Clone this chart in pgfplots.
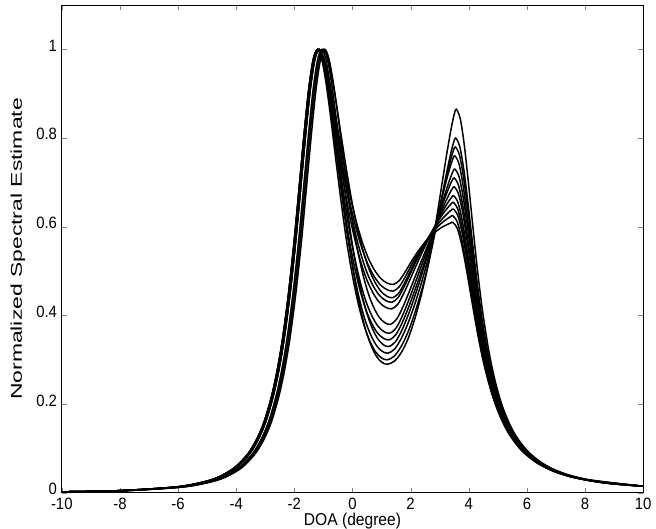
\documentclass[border=0pt]{standalone}
\usepackage{fontspec}
\setmainfont{Liberation Sans}
\usepackage{pgfplots}
\pgfplotsset{compat=1.18}
\usetikzlibrary{calc}
\begin{document}
\begin{tikzpicture}
\begin{axis}[
 scale only axis, width=429pt, height=360pt,
 xmin=-10, xmax=10, ymin=0, ymax=1.1,
 xtick={-10,-8,...,10}, ytick={0,0.2,0.4,0.6,0.8,1},
 yticklabels={0,0.2,0.4,0.6,0.8,1},
 tick align=inside, major tick length=3.5pt,
 /pgf/number format/assume math mode=true,
 tick label style={font=\fontsize{11}{13}\selectfont, yscale=1.1},
 xticklabel style={yshift=0pt},
 yticklabel style={yshift=2.5pt},
 label style={font=\fontsize{11.5}{13}\selectfont},
 xlabel={DOA (degree)}, ylabel={Normalized Spectral Estimate},
 xlabel style={at={(axis description cs:0.5,0)}, anchor=north, inner sep=0pt, yshift=-14.5pt, yscale=1.1},
 ylabel style={at={(axis description cs:-0.0755,0.5)}, anchor=center, xscale=1.47},
 every axis plot post/.append style={black, solid, mark=none, line width=1.1pt, smooth},
 axis line style={line width=0.6pt},
]
% curve 1
\addplot coordinates {(-10,0.0024) (-8.00,0.0050) (-6.00,0.0135) (-5.00,0.0258) (-4.50,0.0375) (-4.00,0.0572) (-3.55,0.0877) (-3.25,0.120) (-3.00,0.158) (-2.75,0.213) (-2.55,0.272) (-2.35,0.349) (-2.15,0.449) (-1.95,0.571) (-1.75,0.712) (-1.60,0.818) (-1.45,0.912) (-1.30,0.977) (-1.15,1)
(-0.991,0.9815) (-0.831,0.939) (-0.672,0.8834) (-0.5125,0.8225) (-0.30,0.743) (-0.0875,0.6714) (0.125,0.6131) (0.3375,0.5654) (0.55,0.5283) (0.7625,0.5018) (0.975,0.4833) (1.1875,0.4732) (1.40,0.47)
(1.605,0.4784) (1.81,0.498) (2.015,0.5204) (2.22,0.5414) (2.425,0.5596) (2.63,0.575) (2.835,0.5876) (3.04,0.5974) (3.173,0.6023) (3.307,0.6065) (3.389,0.6089) (3.45,0.61)
(3.611,0.5954) (3.771,0.5551) (3.932,0.4990) (4.093,0.4374) (4.307,0.3581) (4.521,0.2904) (4.789,0.2245) (5.057,0.1757) (5.378,0.1336) (5.807,0.0964) (6.342,0.0677) (6.985,0.0470) (7.735,0.0328) (8.806,0.0214) (10,0.015)};
% curve 2
\addplot coordinates {(-10,0.0024) (-8.05,0.0050) (-6.05,0.0135) (-5.05,0.0258) (-4.55,0.0375) (-4.05,0.0572) (-3.60,0.0877) (-3.30,0.120) (-3.05,0.158) (-2.80,0.213) (-2.60,0.272) (-2.40,0.349) (-2.20,0.449) (-2.00,0.571) (-1.80,0.712) (-1.65,0.818) (-1.50,0.912) (-1.35,0.977) (-1.20,1)
(-1.0375,0.9809) (-0.875,0.9373) (-0.7125,0.8801) (-0.55,0.8174) (-0.3333,0.7357) (-0.1167,0.6621) (0.10,0.6022) (0.3167,0.5531) (0.5333,0.5150) (0.75,0.4877) (0.9667,0.4686) (1.1833,0.4583) (1.40,0.455)
(1.605,0.4645) (1.81,0.4866) (2.015,0.5122) (2.22,0.5366) (2.425,0.5582) (2.63,0.5771) (2.835,0.5933) (3.04,0.6068) (3.173,0.6139) (3.307,0.6201) (3.389,0.6235) (3.45,0.625)
(3.609,0.6100) (3.768,0.5688) (3.926,0.5113) (4.085,0.4481) (4.297,0.3669) (4.508,0.2975) (4.773,0.2300) (5.037,0.1800) (5.355,0.1369) (5.778,0.0988) (6.307,0.0694) (6.942,0.0482) (7.683,0.0336) (8.742,0.0219) (10,0.015)};
% curve 3
\addplot coordinates {(-10,0.0024) (-7.85,0.0050) (-5.85,0.0135) (-4.85,0.0258) (-4.35,0.0375) (-3.85,0.0572) (-3.40,0.0877) (-3.10,0.120) (-2.85,0.158) (-2.60,0.213) (-2.40,0.272) (-2.20,0.349) (-2.00,0.449) (-1.80,0.571) (-1.60,0.712) (-1.45,0.818) (-1.30,0.912) (-1.15,0.977) (-1.00,1)
(-0.8512,0.9804) (-0.7025,0.9356) (-0.5537,0.8768) (-0.405,0.8124) (-0.2067,0.7284) (-0.0083,0.6528) (0.19,0.5912) (0.3883,0.5408) (0.5867,0.5016) (0.785,0.4736) (0.9833,0.454) (1.1817,0.4434) (1.38,0.44)
(1.589,0.4503) (1.798,0.4744) (2.007,0.5025) (2.216,0.530) (2.425,0.5549) (2.634,0.5773) (2.843,0.5975) (3.052,0.6151) (3.188,0.6248) (3.324,0.6334) (3.407,0.638) (3.47,0.64)
(3.627,0.6246) (3.784,0.5824) (3.941,0.5235) (4.098,0.4589) (4.307,0.3757) (4.516,0.3046) (4.777,0.2355) (5.039,0.1843) (5.352,0.1402) (5.771,0.1011) (6.294,0.0710) (6.921,0.0493) (7.653,0.0344) (8.699,0.0225) (10,0.015)};
% curve 4
\addplot coordinates {(-10,0.0024) (-8.00,0.0050) (-6.00,0.0135) (-5.00,0.0258) (-4.50,0.0375) (-4.00,0.0572) (-3.55,0.0877) (-3.25,0.120) (-3.00,0.158) (-2.75,0.213) (-2.55,0.272) (-2.35,0.349) (-2.15,0.449) (-1.95,0.571) (-1.75,0.712) (-1.60,0.818) (-1.45,0.912) (-1.30,0.977) (-1.15,1)
(-0.9931,0.9801) (-0.8363,0.9345) (-0.6794,0.8746) (-0.5225,0.8091) (-0.3133,0.7236) (-0.1042,0.6466) (0.105,0.5839) (0.3142,0.5326) (0.5233,0.4927) (0.7325,0.4642) (0.9417,0.4443) (1.1508,0.4334) (1.36,0.43)
(1.571,0.4406) (1.782,0.4655) (1.993,0.4950) (2.204,0.5245) (2.415,0.5519) (2.626,0.5773) (2.837,0.6012) (3.048,0.6231) (3.185,0.6356) (3.322,0.6466) (3.407,0.6525) (3.47,0.655)
(3.625,0.6393) (3.780,0.5961) (3.935,0.5358) (4.090,0.4696) (4.297,0.3845) (4.504,0.3118) (4.762,0.2410) (5.021,0.1886) (5.331,0.1434) (5.744,0.1035) (6.261,0.0727) (6.882,0.0505) (7.605,0.0352) (8.639,0.0230) (10,0.015)};
% curve 5
\addplot coordinates {(-10,0.0024) (-8.05,0.0050) (-6.05,0.0135) (-5.05,0.0258) (-4.55,0.0375) (-4.05,0.0572) (-3.60,0.0877) (-3.30,0.120) (-3.05,0.158) (-2.80,0.213) (-2.60,0.272) (-2.40,0.349) (-2.20,0.449) (-2.00,0.571) (-1.80,0.712) (-1.65,0.818) (-1.50,0.912) (-1.35,0.977) (-1.20,1)
(-1.0406,0.9795) (-0.8812,0.9327) (-0.7219,0.8713) (-0.5625,0.804) (-0.35,0.7163) (-0.1375,0.6373) (0.075,0.573) (0.2875,0.5203) (0.50,0.4794) (0.7125,0.4501) (0.925,0.4296) (1.1375,0.4185) (1.35,0.415)
(1.563,0.4258) (1.776,0.4516) (1.989,0.4827) (2.202,0.5145) (2.415,0.5448) (2.628,0.5738) (2.841,0.6023) (3.054,0.6294) (3.192,0.6453) (3.331,0.6594) (3.416,0.6668) (3.48,0.67)
(3.633,0.6539) (3.787,0.6097) (3.940,0.5481) (4.093,0.4804) (4.298,0.3933) (4.502,0.3189) (4.758,0.2466) (5.013,0.1930) (5.320,0.1467) (5.729,0.1059) (6.240,0.0744) (6.853,0.0517) (7.569,0.0360) (8.591,0.0235) (10,0.015)};
% curve 6
\addplot coordinates {(-10,0.0024) (-7.80,0.0050) (-5.80,0.0135) (-4.80,0.0258) (-4.30,0.0375) (-3.80,0.0572) (-3.35,0.0877) (-3.05,0.120) (-2.80,0.158) (-2.55,0.213) (-2.35,0.272) (-2.15,0.349) (-1.95,0.449) (-1.75,0.571) (-1.55,0.712) (-1.40,0.818) (-1.25,0.912) (-1.10,0.977) (-0.95,1)
(-0.8094,0.9783) (-0.6687,0.9287) (-0.5281,0.8636) (-0.3875,0.7923) (-0.20,0.6993) (-0.0125,0.6156) (0.175,0.5474) (0.3625,0.4916) (0.55,0.4482) (0.7375,0.4172) (0.925,0.3955) (1.1125,0.3837) (1.30,0.38)
(1.52,0.3918) (1.74,0.4201) (1.96,0.455) (2.18,0.4916) (2.40,0.5277) (2.62,0.5632) (2.84,0.5995) (3.06,0.6353) (3.203,0.6567) (3.346,0.6759) (3.434,0.6858) (3.50,0.69)
(3.651,0.6734) (3.802,0.6279) (3.953,0.5644) (4.104,0.4947) (4.306,0.4050) (4.507,0.3284) (4.759,0.2539) (5.011,0.1987) (5.313,0.1511) (5.716,0.1090) (6.219,0.0766) (6.824,0.0532) (7.529,0.0371) (8.536,0.0242) (10,0.015)};
% curve 7
\addplot coordinates {(-10,0.0024) (-8.00,0.0050) (-6.00,0.0135) (-5.00,0.0258) (-4.50,0.0375) (-4.00,0.0572) (-3.55,0.0877) (-3.25,0.120) (-3.00,0.158) (-2.75,0.213) (-2.55,0.272) (-2.35,0.349) (-2.15,0.449) (-1.95,0.571) (-1.75,0.712) (-1.60,0.818) (-1.45,0.912) (-1.30,0.977) (-1.15,1)
(-0.9981,0.9776) (-0.8462,0.9264) (-0.6944,0.8592) (-0.5425,0.7856) (-0.34,0.6896) (-0.1375,0.6032) (0.065,0.5328) (0.2675,0.4752) (0.47,0.4304) (0.6725,0.3984) (0.875,0.376) (1.0775,0.3638) (1.28,0.36)
(1.502,0.3718) (1.724,0.4004) (1.946,0.4364) (2.168,0.4755) (2.39,0.5153) (2.612,0.5557) (2.834,0.5986) (3.056,0.6422) (3.200,0.6688) (3.345,0.6927) (3.433,0.7049) (3.50,0.71)
(3.649,0.6930) (3.798,0.6461) (3.947,0.5808) (4.096,0.5091) (4.294,0.4168) (4.493,0.3380) (4.741,0.2613) (4.990,0.2045) (5.287,0.1555) (5.685,0.1122) (6.181,0.0788) (6.777,0.0547) (7.472,0.0382) (8.465,0.0249) (10,0.015)};
% curve 8
\addplot coordinates {(-10,0.0024) (-8.05,0.0050) (-6.05,0.0135) (-5.05,0.0258) (-4.55,0.0375) (-4.05,0.0572) (-3.60,0.0877) (-3.30,0.120) (-3.05,0.158) (-2.80,0.213) (-2.60,0.272) (-2.40,0.349) (-2.20,0.449) (-2.00,0.571) (-1.80,0.712) (-1.65,0.818) (-1.50,0.912) (-1.35,0.977) (-1.20,1)
(-1.0462,0.9771) (-0.8925,0.9247) (-0.7387,0.8559) (-0.585,0.7806) (-0.38,0.6823) (-0.175,0.5939) (0.03,0.5219) (0.235,0.4629) (0.44,0.4171) (0.645,0.3843) (0.85,0.3614) (1.055,0.3489) (1.26,0.345)
(1.486,0.3564) (1.712,0.384) (1.938,0.4199) (2.164,0.4605) (2.39,0.5032) (2.616,0.548) (2.842,0.5974) (3.068,0.6488) (3.215,0.6806) (3.362,0.7094) (3.452,0.724) (3.52,0.73)
(3.667,0.7125) (3.814,0.6643) (3.961,0.5971) (4.108,0.5234) (4.303,0.4285) (4.499,0.3475) (4.744,0.2686) (4.989,0.2102) (5.283,0.1599) (5.674,0.1153) (6.164,0.0810) (6.751,0.0563) (7.437,0.0393) (8.416,0.0256) (10,0.015)};
% curve 9
\addplot coordinates {(-10,0.0024) (-7.85,0.0050) (-5.85,0.0135) (-4.85,0.0258) (-4.35,0.0375) (-3.85,0.0572) (-3.40,0.0877) (-3.10,0.120) (-2.85,0.158) (-2.60,0.213) (-2.40,0.272) (-2.20,0.349) (-2.00,0.449) (-1.80,0.571) (-1.60,0.712) (-1.45,0.818) (-1.30,0.912) (-1.15,0.977) (-1.00,1)
(-0.8594,0.9766) (-0.7187,0.923) (-0.5781,0.8526) (-0.4375,0.7756) (-0.25,0.6751) (-0.0625,0.5846) (0.125,0.5109) (0.3125,0.4506) (0.50,0.4037) (0.6875,0.3702) (0.875,0.3468) (1.0625,0.334) (1.25,0.33)
(1.477,0.3408) (1.704,0.3675) (1.931,0.4035) (2.158,0.4461) (2.385,0.4926) (2.612,0.5431) (2.839,0.6005) (3.066,0.6619) (3.214,0.7004) (3.361,0.7352) (3.452,0.7528) (3.52,0.76)
(3.664,0.7418) (3.808,0.6916) (3.952,0.6217) (4.096,0.5449) (4.288,0.4461) (4.480,0.3618) (4.720,0.2797) (4.960,0.2189) (5.247,0.1664) (5.631,0.1201) (6.111,0.0844) (6.687,0.0586) (7.359,0.0409) (8.319,0.0267) (10,0.015)};
% curve 10
\addplot coordinates {(-10,0.0024) (-8.00,0.0050) (-6.00,0.0135) (-5.00,0.0258) (-4.50,0.0375) (-4.00,0.0572) (-3.55,0.0877) (-3.25,0.120) (-3.00,0.158) (-2.75,0.213) (-2.55,0.272) (-2.35,0.349) (-2.15,0.449) (-1.95,0.571) (-1.75,0.712) (-1.60,0.818) (-1.45,0.912) (-1.30,0.977) (-1.15,1)
(-1.0019,0.976) (-0.8537,0.9212) (-0.7056,0.8493) (-0.5575,0.7705) (-0.36,0.6678) (-0.1625,0.5753) (0.035,0.500) (0.2325,0.4383) (0.43,0.3904) (0.6275,0.3561) (0.825,0.3321) (1.0225,0.3191) (1.22,0.315)
(1.452,0.3246) (1.684,0.349) (1.916,0.3835) (2.148,0.4266) (2.38,0.4757) (2.612,0.5306) (2.844,0.5953) (3.076,0.6658) (3.227,0.7107) (3.378,0.7513) (3.470,0.7717) (3.54,0.78)
(3.682,0.7613) (3.824,0.7098) (3.966,0.6380) (4.108,0.5593) (4.298,0.4579) (4.487,0.3713) (4.724,0.2870) (4.961,0.2246) (5.245,0.1708) (5.624,0.1232) (6.098,0.0866) (6.666,0.0601) (7.329,0.0420) (8.277,0.0274) (10,0.015)};
% curve 11
\addplot coordinates {(-10,0.0024) (-8.05,0.0050) (-6.05,0.0135) (-5.05,0.0258) (-4.55,0.0375) (-4.05,0.0572) (-3.60,0.0877) (-3.30,0.120) (-3.05,0.158) (-2.80,0.213) (-2.60,0.272) (-2.40,0.349) (-2.20,0.449) (-2.00,0.571) (-1.80,0.712) (-1.65,0.818) (-1.50,0.912) (-1.35,0.977) (-1.20,1)
(-1.05,0.9755) (-0.9,0.9195) (-0.75,0.846) (-0.6,0.7655) (-0.4,0.6605) (-0.2,0.566) (0,0.489) (0.2,0.426) (0.4,0.377) (0.6,0.342) (0.8,0.3175) (1.0,0.3042) (1.2,0.30)
(1.435,0.3082) (1.67,0.3296) (1.905,0.3618) (2.14,0.405) (2.375,0.4564) (2.61,0.5159) (2.845,0.5882) (3.08,0.6687) (3.233,0.7203) (3.386,0.7671) (3.480,0.7906) (3.55,0.80)
(3.690,0.7808) (3.831,0.728) (3.971,0.6544) (4.111,0.5736) (4.298,0.4696) (4.485,0.3808) (4.719,0.2944) (4.953,0.2304) (5.234,0.1752) (5.608,0.1264) (6.076,0.0888) (6.637,0.0617) (7.292,0.0430) (8.227,0.0281) (10,0.015)};
% curve 12
\addplot coordinates {(-10,0.0024) (-7.90,0.0050) (-5.90,0.0135) (-4.90,0.0258) (-4.40,0.0375) (-3.90,0.0572) (-3.45,0.0877) (-3.15,0.120) (-2.90,0.158) (-2.65,0.213) (-2.45,0.272) (-2.25,0.349) (-2.05,0.449) (-1.85,0.571) (-1.65,0.712) (-1.50,0.818) (-1.35,0.912) (-1.20,0.977) (-1.05,1)
(-0.9094,0.9752) (-0.7687,0.9184) (-0.6281,0.8438) (-0.4875,0.7622) (-0.30,0.6557) (-0.1125,0.5598) (0.075,0.4817) (0.2625,0.4178) (0.45,0.3681) (0.6375,0.3326) (0.825,0.3078) (1.0125,0.2943) (1.20,0.29)
(1.437,0.2969) (1.674,0.3159) (1.911,0.3475) (2.148,0.3935) (2.385,0.451) (2.622,0.52) (2.859,0.6063) (3.096,0.704) (3.250,0.7673) (3.404,0.8248) (3.499,0.8535) (3.57,0.865)
(3.705,0.8442) (3.840,0.7872) (3.975,0.7076) (4.110,0.6202) (4.290,0.5078) (4.470,0.4117) (4.695,0.3183) (4.919,0.2491) (5.189,0.1894) (5.549,0.1367) (5.999,0.0960) (6.539,0.0667) (7.168,0.0465) (8.068,0.0304) (10,0.015)};
\end{axis}
\useasboundingbox ($(current axis.south west)+(-45.6pt,-26.6pt)$) rectangle ($(current axis.north east)+(8pt,3.7pt)$);
\end{tikzpicture}
\end{document}
